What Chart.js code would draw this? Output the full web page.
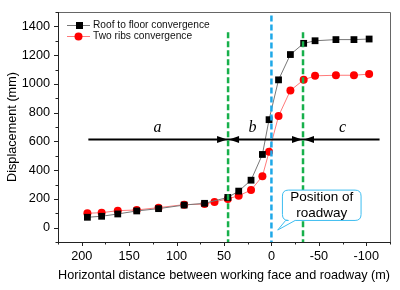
<!DOCTYPE html>
<html><head><meta charset="utf-8">
<script src="https://cdn.jsdelivr.net/npm/chart.js@4/dist/chart.umd.min.js"></script>
<style>html,body{margin:0;padding:0;background:#fff}</style>
</head><body>
<canvas id="c" width="400" height="290" style="display:block;width:400px;height:290px"></canvas>
<script>
// ---- data ----
const roofDistance = [194, 179, 162, 142, 119, 92, 70.5, 46, 34.5, 21.5, 9.5, 2.5, -7.5, -20, -34, -46, -68, -87, -103];
const roofFloor    = [72, 79, 95, 116, 132, 157, 169, 210, 254, 330, 509, 751, 1028, 1204, 1282, 1300, 1308, 1308, 1312];
const ribsDistance = [194, 179, 162, 142, 119, 92, 70.5, 60, 46, 34.5, 21.5, 9.5, 2.5, -7.5, -20, -34, -46, -68, -87, -103];
const twoRibs      = [100, 104, 118, 123, 139, 160, 164, 179, 200, 222, 261, 358, 527, 776, 954, 1028, 1056, 1060, 1060, 1068];
const seriesNames  = ['Roof to floor convergence', 'Two ribs convergence'];
const xTickValues  = [200, 150, 100, 50, 0, -50, -100];
const yTickValues  = [0, 200, 400, 600, 800, 1000, 1200, 1400];
const zoneNames    = ['a', 'b', 'c'];
const zoneBounds   = [45.7, -33.3];
const zoneLabelX   = [120, 20, -75];
const roadwayX     = 0;
const arrowY       = 620;
const arrowExtent  = [193, -114];
const calloutText  = ['Position of', 'roadway'];

const FONT = '"Liberation Sans", Arial, sans-serif';

const overlay = {
  id: 'overlay',
  beforeDatasetsDraw(chart) {
    const ctx = chart.ctx, xs = chart.scales.x, ys = chart.scales.y;
    const {left, right, top, bottom} = chart.chartArea;
    ctx.save();
    // frame
    ctx.lineWidth = 1;
    ctx.strokeStyle = '#666';
    ctx.beginPath();
    ctx.moveTo(left, top + 0.5); ctx.lineTo(right + 0.5, top + 0.5); ctx.lineTo(right + 0.5, bottom);
    ctx.stroke();
    ctx.strokeStyle = '#222';
    ctx.beginPath();
    ctx.moveTo(left + 0.5, top); ctx.lineTo(left + 0.5, bottom + 0.5); ctx.lineTo(right + 1, bottom + 0.5);
    ctx.stroke();
    // ticks
    ctx.beginPath();
    for (let v = -100; v <= 1500; v += 100) {
      const y = Math.round(ys.getPixelForValue(v)) + 0.5;
      const len = (v % 200 === 0) ? 4 : 2.5;
      ctx.moveTo(left, y); ctx.lineTo(left - len, y);
    }
    for (let v = -125; v <= 225; v += 25) {
      const x = Math.round(xs.getPixelForValue(v)) + 0.5;
      const len = (v % 50 === 0) ? 4 : 2.5;
      ctx.moveTo(x, bottom); ctx.lineTo(x, bottom + len);
    }
    ctx.stroke();
    ctx.restore();
  },
  afterDatasetsDraw(chart) {
    const ctx = chart.ctx, xs = chart.scales.x, ys = chart.scales.y;
    const X = v => xs.getPixelForValue(v), Y = v => ys.getPixelForValue(v);
    const {bottom} = chart.chartArea;
    ctx.save();
    // arrow line
    const ay = Math.round(Y(arrowY)) + 0.5;
    ctx.strokeStyle = '#000'; ctx.fillStyle = '#000'; ctx.lineWidth = 2;
    ctx.beginPath(); ctx.moveTo(X(arrowExtent[0]), ay); ctx.lineTo(X(arrowExtent[1]), ay); ctx.stroke();
    const head = (tipX, dir) => {
      ctx.beginPath();
      ctx.moveTo(tipX, ay);
      ctx.lineTo(tipX - dir * 10, ay - 3.5);
      ctx.lineTo(tipX - dir * 10, ay + 3.5);
      ctx.closePath(); ctx.fill();
    };
    zoneBounds.forEach(b => { head(X(b) - 1, 1); head(X(b) + 1, -1); });
    // zone labels
    ctx.font = 'italic 16px "Liberation Serif", "DejaVu Serif", serif';
    ctx.textAlign = 'center'; ctx.textBaseline = 'alphabetic';
    zoneNames.forEach((n, i) => ctx.fillText(n, X(zoneLabelX[i]), Y(665)));
    // vertical dashed lines
    ctx.lineWidth = 2.5;
    ctx.setLineDash([6, 3]);
    ctx.strokeStyle = '#17b04b';
    zoneBounds.forEach(b => {
      const x = X(b);
      ctx.beginPath(); ctx.moveTo(x, Y(1360)); ctx.lineTo(x, bottom); ctx.stroke();
    });
    ctx.strokeStyle = '#1ea8e8';
    ctx.beginPath(); ctx.moveTo(X(roadwayX), Y(1475)); ctx.lineTo(X(roadwayX), bottom); ctx.stroke();
    ctx.setLineDash([]);
    // callout
    const bx0 = X(-11.6), bx1 = X(-94.5), by0 = Y(261), by1 = Y(50), r = 6;
    const tipX = X(-6.6), tipY = Y(-17);
    ctx.beginPath();
    ctx.moveTo(bx0 + r, by0);
    ctx.lineTo(bx1 - r, by0); ctx.quadraticCurveTo(bx1, by0, bx1, by0 + r);
    ctx.lineTo(bx1, by1 - r); ctx.quadraticCurveTo(bx1, by1, bx1 - r, by1);
    ctx.lineTo(X(-25), by1); ctx.lineTo(tipX, tipY); ctx.lineTo(X(-15), by1);
    ctx.lineTo(bx0 + r, by1); ctx.quadraticCurveTo(bx0, by1, bx0, by1 - r);
    ctx.lineTo(bx0, by0 + r); ctx.quadraticCurveTo(bx0, by0, bx0 + r, by0);
    ctx.closePath();
    ctx.fillStyle = '#fff'; ctx.fill();
    ctx.strokeStyle = '#3dbdf0'; ctx.lineWidth = 1; ctx.stroke();
    ctx.fillStyle = '#000';
    ctx.font = '13.5px ' + FONT;
    ctx.textAlign = 'center'; ctx.textBaseline = 'middle';
    const cx = (bx0 + bx1) / 2;
    ctx.fillText(calloutText[0], cx, by0 + 7.5);
    ctx.fillText(calloutText[1], cx, by0 + 23.5);
    // legend
    const lx0 = chart.chartArea.left + 9, rows = [Y(1410), Y(1334)];
    ctx.font = '10.2px ' + FONT; ctx.textAlign = 'left'; ctx.textBaseline = 'middle';
    chart.data.datasets.forEach((ds, i) => {
      const y = Math.round(rows[i]) + 0.5;
      ctx.strokeStyle = ds.borderColor; ctx.lineWidth = 1;
      ctx.beginPath(); ctx.moveTo(lx0, y); ctx.lineTo(lx0 + 23, y); ctx.stroke();
      ctx.fillStyle = ds.pointBackgroundColor;
      if (ds.pointStyle === 'rect') ctx.fillRect(lx0 + 9, y - 3.5, 7, 7);
      else { ctx.beginPath(); ctx.arc(lx0 + 11.5, y, 4, 0, Math.PI * 2); ctx.fill(); }
      ctx.fillStyle = '#111';
      ctx.fillText(ds.label, lx0 + 26, y);
    });
    ctx.restore();
  }
};

const toPts = (xs, ys) => xs.map((x, i) => ({x, y: ys[i]}));

new Chart(document.getElementById('c'), {
  type: 'scatter',
  data: {
    datasets: [
      { label: seriesNames[0], data: toPts(roofDistance, roofFloor), showLine: true,
        borderColor: '#777', borderWidth: 1, pointStyle: 'rect', pointRadius: 4.8,
        pointBackgroundColor: '#000', pointBorderColor: '#000', pointBorderWidth: 0 },
      { label: seriesNames[1], data: toPts(ribsDistance, twoRibs), showLine: true,
        borderColor: '#ff7a7a', borderWidth: 1, pointStyle: 'circle', pointRadius: 4,
        pointBackgroundColor: '#ff0000', pointBorderColor: '#ff0000', pointBorderWidth: 0 }
    ]
  },
  options: {
    responsive: false, animation: false, devicePixelRatio: 1,
    layout: { padding: { top: 12, right: 10, left: 0, bottom: 0 } },
    plugins: { legend: { display: false }, tooltip: { enabled: false } },
    scales: {
      x: {
        type: 'linear', reverse: true, min: -125, max: 225,
        afterBuildTicks: s => { s.ticks = xTickValues.map(v => ({value: v})); },
        afterFit: s => { s.height = 48; },
        grid: { display: false, drawTicks: true, tickLength: 5 },
        border: { display: false },
        ticks: { color: '#000', font: { family: FONT, size: 12.7 }, padding: 2, maxRotation: 0, autoSkip: false,
                 callback: v => String(v) },
        title: { display: true, text: 'Horizontal distance between working face and roadway (m)',
                 color: '#000', font: { family: FONT, size: 12.7 }, padding: { top: 0, bottom: 7 } }
      },
      y: {
        type: 'linear', min: -100, max: 1500,
        afterBuildTicks: s => { s.ticks = yTickValues.map(v => ({value: v})); },
        afterFit: s => { s.width = 58; },
        grid: { display: false, drawTicks: true, tickLength: 5 },
        border: { display: false },
        ticks: { color: '#000', font: { family: FONT, size: 12.7 }, padding: 3, autoSkip: false,
                 callback: v => String(v) },
        title: { display: true, text: 'Displacement (mm)',
                 color: '#000', font: { family: FONT, size: 12.7 }, padding: { top: 5, bottom: 0 } }
      }
    }
  },
  plugins: [overlay]
});
</script>
</body></html>
